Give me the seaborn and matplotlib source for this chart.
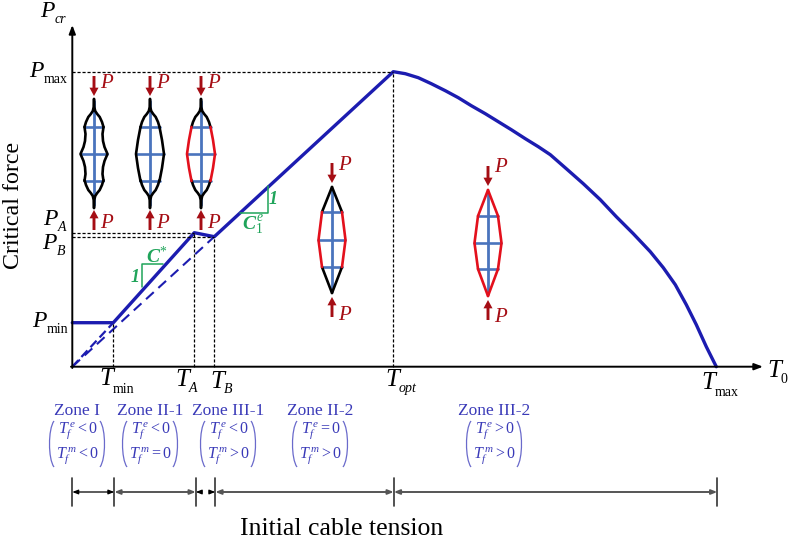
import matplotlib
matplotlib.use('Agg')
import matplotlib.pyplot as plt
import pandas as pd
import seaborn as sns
from matplotlib.patches import PathPatch
from matplotlib.path import Path

# curve values, origin of the plot is (T0=0, Pcr=0)
T_vals = [0, 41, 122, 142, 321, 333, 346, 359, 373, 386, 399, 413, 426, 439, 453, 466, 478,
          494, 511, 528, 544, 561, 578, 591, 603, 614, 624, 634, 644]
P_vals = [44, 44, 134, 130, 295, 293, 289, 283, 276, 269, 261, 253, 245, 237, 228, 220, 212,
          198, 183, 167, 150, 133, 115, 99, 82, 62, 42, 20, 0]
T_marks = {'min': 41, 'A': 122, 'B': 142, 'opt': 321, 'max': 644}
P_marks = {'min': 44, 'A': 134, 'B': 130, 'max': 295}
zone_edges = [0, 42, 123.5, 143, 321.5, 645]

zone_names = ['Zone I', 'Zone II-1', 'Zone III-1', 'Zone II-2', 'Zone III-2']
zone_x = [77, 150, 228, 320, 494]
zone_top = [r'$T_f^{\,e}<0$', r'$T_f^{\,e}<0$', r'$T_f^{\,e}<0$', r'$T_f^{\,e}=0$', r'$T_f^{\,e}>0$']
zone_bot = [r'$T_f^{\,m}<0$', r'$T_f^{\,m}=0$', r'$T_f^{\,m}>0$', r'$T_f^{\,m}>0$', r'$T_f^{\,m}>0$']

# cable half widths of the first three members
neck_off = [0, 0.3, 1.2, 3.2, 5.7, 8, 9.5]
neck_y = [0, 8, 12, 15, 18, 23, 28]
wave_off = [9.5, 8.5, 9, 10.5, 13.5, 10.5, 9, 8.5, 9.5]
wave_y = [127, 134, 141, 147, 154, 161, 167, 174, 181]
bow_off = [9.5, 12, 14, 12, 9.5]
bow_y = [127, 140, 154, 168, 181]

BLUE = '#1c1cb0'
ZONE = '#3a3ab8'
RED = '#e3101c'
DARK = '#a50d14'
BAR = '#4a74bd'
GREEN = '#1fa45a'

sns.set_theme(style='white')
plt.rcParams['font.family'] = ['Liberation Serif', 'DejaVu Serif']
plt.rcParams['mathtext.fontset'] = 'custom'
plt.rcParams['mathtext.rm'] = 'Liberation Serif'
plt.rcParams['mathtext.it'] = 'Liberation Serif:italic'
plt.rcParams['mathtext.bf'] = 'Liberation Serif:italic:bold'

fig = plt.figure(figsize=(7.89, 5.42), dpi=100)
ax = fig.add_axes([0, 0, 1, 1])
ax.set_xlim(-72.3, 716.7)
ax.set_ylim(-175.3, 366.7)
ax.axis('off')


def px(x, y):
    # image pixel position to data position, for the annotations
    return x - 72.3, 366.7 - y


def text(x, y, s, size=18, color='black', **kw):
    kw.setdefault('ha', 'center')
    kw.setdefault('va', 'center')
    ax.text(*px(x, y), s, fontsize=size, color=color, **kw)


def symbol(x, y, main, xs, ys, sub, sub_italic=True, size=17, sub_size=10):
    text(x, y, main, size, style='italic', ha='left', va='baseline')
    text(xs, ys, sub, sub_size, style='italic' if sub_italic else 'normal', ha='left', va='baseline')


def line(xs, ys, color='black', lw=1.0, **kw):
    pts = [px(x, y) for x, y in zip(xs, ys)]
    ax.plot([p[0] for p in pts], [p[1] for p in pts], color=color, lw=lw, **kw)


def arrow(x0, y0, x1, y1, **props):
    ax.annotate('', xy=px(x1, y1), xytext=px(x0, y0), arrowprops=props)


def load_arrows(cx, top, bottom, gap=3, p_top=16, p_bot=16):
    load = dict(width=2.1, headwidth=6.5, headlength=6, color=DARK, shrink=0, lw=0)
    arrow(cx, top - gap - 20, cx, top - gap, **load)
    arrow(cx, bottom + gap + 20, cx, bottom + gap, **load)
    text(cx + 13, top - p_top, r'$P$', 15, DARK)
    text(cx + 13, bottom + p_bot, r'$P$', 15, DARK)


def mast(cx, top, bottom, bars, half):
    line([cx, cx], [top + 2, bottom - 2], BAR, 2.0)
    for y, h in zip(bars, half):
        line([cx - h, cx + h], [y, y], BAR, 1.9)


def straight_member(cx, top, bottom, bars, half, end_color):
    mast(cx, top, bottom, bars, half)
    for side in (-1, 1):
        line([cx, cx + side * half[0]], [top, bars[0]], end_color, 1.9)
        line([cx, cx + side * half[2]], [bottom, bars[2]], end_color, 1.9)
        line([cx + side * h for h in half], bars, RED, 1.9)


def cusp_member(cx, top, bottom, bars, half, body_off, body_y, body_color):
    mast(cx, top, bottom, bars, half)
    for side in (-1, 1):
        xs = [cx + side * o for o in neck_off]
        line(xs, [top + d for d in neck_y], 'black', 1.9)
        line(xs, [bottom - d + 1 for d in neck_y], 'black', 1.9)
        line([cx + side * o for o in body_off], body_y, body_color, 1.9)


# curve and guides
df = pd.DataFrame({'T': T_vals, 'P': P_vals})
sns.lineplot(data=df, x='T', y='P', sort=False, estimator=None, color=BLUE, lw=2.4, ax=ax,
             solid_joinstyle='round', legend=False)
ax.set_xlabel('')
ax.set_ylabel('')
ax.plot([0, T_marks['min']], [0, P_marks['min']], color=BLUE, lw=1.6, ls=(0, (4, 2)))
ax.plot([0, T_marks['B']], [0, P_marks['B']], color=BLUE, lw=1.5, ls=(0, (5, 3)))

dash = dict(color='black', lw=0.9, ls=(0, (2.5, 1.5)))
ax.plot([T_marks['min']] * 2, [0, P_marks['min']], **dash)
ax.plot([T_marks['A']] * 2, [0, P_marks['A']], **dash)
ax.plot([T_marks['B']] * 2, [0, P_marks['B']], **dash)
ax.plot([T_marks['opt']] * 2, [0, P_marks['max']], **dash)
ax.plot([0, T_marks['opt']], [P_marks['max']] * 2, **dash)
ax.plot([0, T_marks['A']], [P_marks['A']] * 2, **dash)
ax.plot([0, T_marks['B']], [P_marks['B']] * 2, **dash)

# axes
head = dict(arrowstyle='-|>,head_width=0.16,head_length=0.42', color='black', lw=1.4, shrinkA=0, shrinkB=0)
arrow(72.3, 368, 72.3, 25, **head)
arrow(71, 366.7, 763, 366.7, **head)

# axis labels
symbol(40, 17, 'P', 55, 23, 'cr')
symbol(29, 77, 'P', 44, 83, 'max', False)
symbol(43, 225, 'P', 58, 231, 'A')
symbol(42, 249, 'P', 57, 255, 'B')
symbol(32, 327, 'P', 47, 333, 'min', False)
symbol(99.5, 385, 'T', 113, 393, 'min', False, 18)
symbol(175, 386, 'T', 188.5, 392, 'A', True, 18)
symbol(210, 388, 'T', 223.5, 393, 'B', True, 18)
symbol(385, 386, 'T', 398.5, 392, 'opt', True, 18)
symbol(701.5, 389, 'T', 715, 396, 'max', False, 18)
symbol(767, 377, 'T', 780.5, 383, '0', False, 18)
text(14, 205, 'Critical force', 17.3, rotation=90)
text(342, 529, 'Initial cable tension', 18.5)

# member sketches
bars_a = [127, 154, 181]
cusp_member(94, 99, 207, bars_a, [9, 13, 9], wave_off, wave_y, 'black')
cusp_member(150, 99, 207, bars_a, [10, 14, 10], bow_off, bow_y, 'black')
cusp_member(201, 99, 207, bars_a, [10, 14, 10], bow_off, bow_y, RED)
for cx in (94, 150, 201):
    load_arrows(cx, 99, 207)

straight_member(332, 187, 293, [212, 240, 267], [10, 13.5, 10], 'black')
load_arrows(332, 187, 293, gap=4, p_top=22, p_bot=23)
straight_member(488, 190, 296, [216, 243, 269], [10, 13.5, 10], RED)
load_arrows(488, 190, 296, gap=4, p_top=23, p_bot=21)

# slope triangles
line([142, 142, 163], [287, 264, 264], GREEN, 1.1)
text(157, 256, r'$\mathbf{C}^{*}$', 14, GREEN)
text(135, 277, r'$\mathbf{1}$', 13, GREEN)
line([240, 268, 268], [213, 213, 186], GREEN, 1.1)
text(253, 225, r'$\mathbf{C}_{1}^{\,e}$', 14, GREEN)
text(273, 200, r'$\mathbf{1}$', 13, GREEN)


def paren(x0, x1, top, bottom):
    for xa, xb in ((x0, x0 + 6), (x1, x1 - 6)):
        verts = [px(xb, top), px(xa, top + 8), px(xa, bottom - 8), px(xb, bottom)]
        codes = [Path.MOVETO, Path.CURVE4, Path.CURVE4, Path.CURVE4]
        ax.add_patch(PathPatch(Path(verts, codes), fc='none', ec='#6a6acb', lw=0.9))


# zones
for name, x, a, b in zip(zone_names, zone_x, zone_top, zone_bot):
    text(x, 411, name, 12.5, ZONE)
    text(x + 0.5, 431, a, 11.5, ZONE)
    text(x + 0.5, 456, b, 11.5, ZONE)
    paren(x - 29, x + 29, 421, 467)

# dimension lines along the bottom
tip = 'head_width=0.11,head_length=0.28'
for i, edge in enumerate(zone_edges):
    x0 = edge + 72.3
    line([x0, x0], [478, 506], '#333333', 1.2)
    if i < len(zone_edges) - 1:
        x1 = zone_edges[i + 1] + 72.3
        if x1 - x0 < 30:
            arrow(x0 + 6, 492, x0, 492, arrowstyle='-|>,' + tip, color='black', lw=0.9, shrinkA=0, shrinkB=0)
            arrow(x1 - 6, 492, x1, 492, arrowstyle='-|>,' + tip, color='black', lw=0.9, shrinkA=0, shrinkB=0)
        else:
            c, w = ('black', 0.9) if i == 0 else ('#555555', 1.4)
            arrow(x0, 492, x1, 492, arrowstyle='<|-|>,' + tip, color=c, lw=w, shrinkA=0, shrinkB=0)

fig.savefig('out.png', dpi=100)
